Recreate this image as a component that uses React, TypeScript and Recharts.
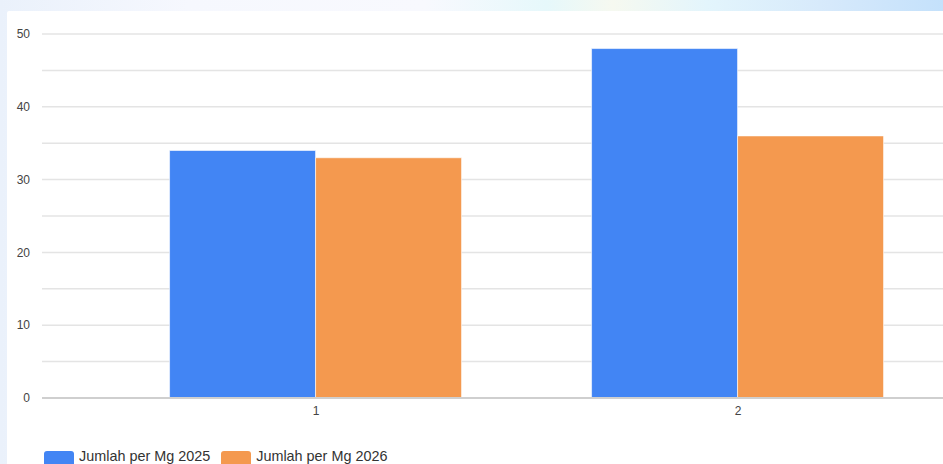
import { BarChart, Bar, XAxis, YAxis, CartesianGrid, Legend } from "recharts";

const categories = ["1", "2"];
const seriesA = [34, 48];
const seriesB = [33, 36];
const yTicks = [0, 5, 10, 15, 20, 25, 30, 35, 40, 45, 50];

const seriesNames = ["Jumlah per Mg 2025", "Jumlah per Mg 2026"];
const seriesColors = ["#4285f4", "#f4994f"];

const data = categories.map((c, i) => ({
  name: c,
  a: seriesA[i],
  b: seriesB[i],
}));

const FONT = "Arial, 'Liberation Sans', sans-serif";

const LegendBox = () => (
  <div style={{ display: "flex", alignItems: "flex-start", fontFamily: FONT, fontSize: 14.4, color: "#333", height: 20 }}>
    {seriesNames.map((n, i) => (
      <div key={n} style={{ display: "flex", alignItems: "flex-start", marginRight: 11 }}>
        <div
          style={{
            width: 30,
            height: 20,
            borderRadius: 3,
            background: seriesColors[i],
            marginRight: 5,
            marginTop: 2,
          }}
        />
        <span style={{ lineHeight: "15px", marginTop: 0 }}>{n}</span>
      </div>
    ))}
  </div>
);

export default function App() {
  return (
    <div
      style={{
        position: "absolute",
        left: 0,
        top: 0,
        width: 943,
        height: 464,
        overflow: "hidden",
        background:
          "linear-gradient(90deg, #eaf1fb 0%, #f6f8fe 20%, #f8f9fe 45%, #e6f8fb 58%, #f6f9f0 65%, #e3f5fc 75%, #d6e9fb 88%, #c4e1fb 100%)",
      }}
    >
      <div
        style={{
          position: "absolute",
          left: 7,
          top: 11,
          width: 960,
          height: 470,
          background: "#fff",
          borderTopLeftRadius: 2,
        }}
      >
        <BarChart
          width={945}
          height={460}
          data={data}
          margin={{ top: 23, right: 3, left: 0, bottom: 2 }}
          barGap={0}
          barCategoryGap="15.3%"
        >
          <CartesianGrid horizontal vertical={false} stroke="#e4e4e4" strokeWidth={1.5} />
          <XAxis
            dataKey="name"
            padding={{ left: 63, right: 0 }}
            height={51}
            tickLine={false}
            axisLine={{ stroke: "#cfcfcf", strokeWidth: 2 }}
            tickSize={6}
            tick={{ fill: "#444", fontSize: 12, fontFamily: FONT }}
          />
          <YAxis
            width={35}
            domain={[0, 50]}
            ticks={yTicks}
            interval={0}
            tickLine={false}
            axisLine={false}
            tickSize={10}
            tickFormatter={(v: number) => (v % 10 === 0 ? String(v) : "")}
            tick={{ fill: "#444", fontSize: 12, fontFamily: FONT }}
          />
          <Legend verticalAlign="bottom" align="left" content={() => <LegendBox />} wrapperStyle={{ left: 37 }} />
          <Bar dataKey="a" name={seriesNames[0]} fill={seriesColors[0]} stroke="#fff" strokeWidth={0.6} isAnimationActive={false} />
          <Bar dataKey="b" name={seriesNames[1]} fill={seriesColors[1]} stroke="#fff" strokeWidth={0.6} isAnimationActive={false} />
        </BarChart>
      </div>
    </div>
  );
}
